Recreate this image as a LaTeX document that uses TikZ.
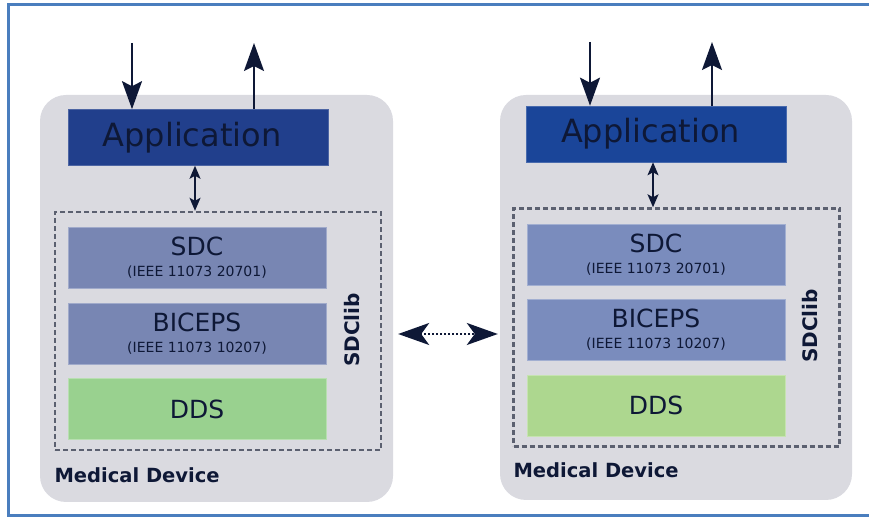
\documentclass[tikz,border=0pt]{standalone}
\usepackage{fontspec}
\setmainfont{DejaVu Sans}
\usepackage{tikz}
\usetikzlibrary{arrows.meta,positioning}
\definecolor{frameblue}{HTML}{4A7EBE}
\definecolor{devgray}{HTML}{DADAE0}
\definecolor{ink}{HTML}{0E1836}
\definecolor{dashgray}{HTML}{5B6070}
\definecolor{appleft}{HTML}{213F8C}
\definecolor{appright}{HTML}{1A4599}
\definecolor{layerleft}{HTML}{7886B3}
\definecolor{layerright}{HTML}{7A8CBD}
\definecolor{ddsleft}{HTML}{99D18F}
\definecolor{ddsright}{HTML}{ADD78F}
\tikzset{
  device/.style={fill=devgray,rounded corners=26pt,inner sep=0pt},
  appbox/.style={draw=#1!80!white,line width=.6pt,fill=#1,text=ink,minimum width=260pt,minimum height=56pt,inner sep=0pt,font=\fontsize{32}{36}\selectfont},
  layerbox/.style={draw=#1!70!white,line width=.6pt,fill=#1,text=ink,align=center,minimum width=258pt,minimum height=61pt,inner sep=0pt,font=\fontsize{14}{21}\selectfont},
  libframe/.style={draw=dashgray,dash pattern=on 5pt off 3pt,line width=2.4pt,minimum width=326pt,minimum height=238pt,inner sep=0pt},
  libtext/.style={rotate=90,text=ink,font=\bfseries\fontsize{20}{22}\selectfont},
  devtext/.style={anchor=west,text=ink,font=\bfseries\fontsize{19.5}{22}\selectfont},
  bigarrow/.style={draw=ink,line width=2pt,-{Stealth[length=28pt,width=20pt,inset=5pt]}},
  smallarrow/.style={draw=ink,line width=1.5pt,{Stealth[length=13pt,width=11pt,inset=3pt]}-{Stealth[length=13pt,width=11pt,inset=3pt]}},
  linkarrow/.style={draw=ink,line width=2pt,dotted,{Stealth[length=31pt,width=22pt,inset=8pt]}-{Stealth[length=31pt,width=22pt,inset=8pt]}},
}
\newcommand{\layername}[2]{{\fontsize{25}{21}\selectfont #1}\\#2}

\begin{document}
\begin{tikzpicture}[x=1pt,y=1pt,node distance=14pt]
  \useasboundingbox (0,0) rectangle (869,518);
  \draw[frameblue,line width=3pt] (880,2) -- (8,2) -- (8,513) -- (880,513);

  % left device
  \node[device,minimum width=353pt,minimum height=407pt] (devL) at (216.5,219.5) {};
  \node[appbox=appleft] (appL) at (198,380.5) {Application\kern12pt};
  \node[libframe] (libL) at (218,187) {};
  \node[layerbox=layerleft] (sdcL) at (197,260) {\layername{SDC}{(IEEE 11073 20701)}};
  \node[layerbox=layerleft,below=of sdcL] (bicepsL) {\layername{BICEPS}{(IEEE 11073 10207)}};
  \node[layerbox=ddsleft,below=of bicepsL,font=\fontsize{25}{28}\selectfont] (ddsL) {DDS};
  \node[libtext] (sdclibL) at (352,188) {SDClib};
  \node[devtext] (nameL) at (51,43) {Medical Device};
  \coordinate (inL) at (132,475);
  \coordinate (outL) at (254,475);
  \draw[bigarrow] (inL) -- (inL |- appL.north);
  \draw[bigarrow] (outL |- appL.north) -- (outL);
  \draw[smallarrow] (appL.south -| 195,0) -- (libL.north -| 195,0);

  % right device
  \node[device,minimum width=352pt,minimum height=405pt] (devR) at (676,220.5) {};
  \node[appbox=appright] (appR) at (656.5,384) {Application\kern12pt};
  \node[libframe] (libR) at (676.5,190.5) {};
  \node[layerbox=layerright] (sdcR) at (656,263.5) {\layername{SDC}{(IEEE 11073 20701)}};
  \node[layerbox=layerright,below=of sdcR] (bicepsR) {\layername{BICEPS}{(IEEE 11073 10207)}};
  \node[layerbox=ddsright,below=of bicepsR,font=\fontsize{25}{28}\selectfont] (ddsR) {DDS};
  \node[libtext] (sdclibR) at (810,192) {SDClib};
  \node[devtext] (nameR) at (510,48) {Medical Device};
  \coordinate (inR) at (590,476);
  \coordinate (outR) at (712,476);
  \draw[bigarrow] (inR) -- (inR |- appR.north);
  \draw[bigarrow] (outR |- appR.north) -- (outR);
  \draw[smallarrow] (appR.south -| 653,0) -- (libR.north -| 653,0);

  % link between the devices
  \coordinate (mid) at (446,184);
  \draw[linkarrow,shorten <=5pt,shorten >=2pt] (devL.east |- mid) -- (devR.west |- mid);
\end{tikzpicture}
\end{document}
